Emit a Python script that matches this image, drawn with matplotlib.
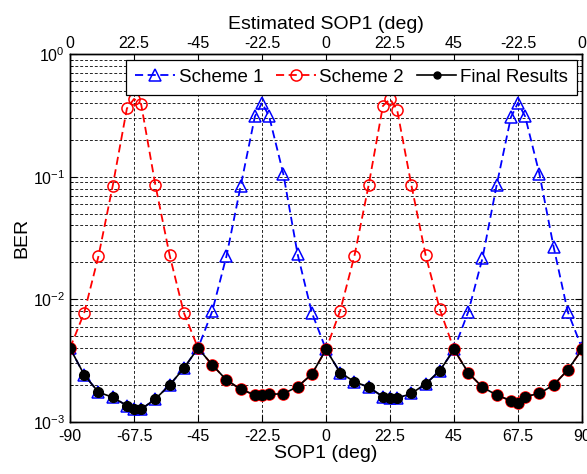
"""
BER versus SOP1 for the two estimation schemes and the final (best-of) result.
"""

import matplotlib
matplotlib.use('Agg')
import matplotlib.pyplot as plt
from matplotlib.ticker import LogLocator, NullFormatter, FixedLocator

plt.rcParams['font.family'] = 'Liberation Sans'
plt.rcParams['mathtext.default'] = 'regular'
plt.rcParams['xtick.direction'] = 'in'
plt.rcParams['ytick.direction'] = 'in'

# SOP1 sample points (deg)
sop1 = [-90, -85, -80, -75, -70, -67.5, -65, -60, -55, -50,
        -45, -40, -35, -30, -25, -22.5, -20, -15, -10, -5,
        0, 5, 10, 15, 20, 22.5, 25, 30, 35, 40,
        45, 50, 55, 60, 65, 67.5, 70, 75, 80, 85, 90]

scheme1 = [0.0040, 0.00242, 0.00175, 0.00159, 0.00136, 0.00127, 0.00127, 0.00154, 0.0020, 0.00274,
           0.0040, 0.0080, 0.0225, 0.084, 0.31, 0.40, 0.31, 0.105, 0.0234, 0.0078,
           0.0039, 0.00252, 0.00213, 0.00192, 0.00161, 0.00156, 0.00156, 0.00171, 0.00204, 0.00262,
           0.0039, 0.0079, 0.0216, 0.0855, 0.305, 0.40, 0.31, 0.106, 0.0269, 0.0079, 0.0040]

scheme2 = [0.0040, 0.0078, 0.0225, 0.084, 0.36, 0.43, 0.39, 0.0855, 0.023, 0.0078,
           0.0040, 0.00292, 0.0022, 0.00185, 0.00166, 0.00166, 0.00168, 0.0017, 0.00194, 0.00245,
           0.0039, 0.0081, 0.0227, 0.0855, 0.377, 0.43, 0.35, 0.0855, 0.023, 0.0083,
           0.0039, 0.00252, 0.00192, 0.00166, 0.00149, 0.00142, 0.00161, 0.00171, 0.0020, 0.00266, 0.0039]

final = [0.0040, 0.00242, 0.00175, 0.00159, 0.00136, 0.00127, 0.00127, 0.00154, 0.0020, 0.00274,
         0.0040, 0.00292, 0.0022, 0.00185, 0.00166, 0.00166, 0.00168, 0.0017, 0.00194, 0.00245,
         0.0039, 0.00252, 0.00213, 0.00192, 0.00161, 0.00156, 0.00156, 0.00171, 0.00204, 0.00262,
         0.0039, 0.00252, 0.00192, 0.00166, 0.00149, 0.00142, 0.00161, 0.00171, 0.0020, 0.00266, 0.0039]

xticks = [-90, -67.5, -45, -22.5, 0, 22.5, 45, 67.5, 90]
xtick_labels = ['-90', '-67.5', '-45', '-22.5', '0', '22.5', '45', '67.5', '90']
top_labels = ['0', '22.5', '-45', '-22.5', '0', '22.5', '45', '-22.5', '0']


def main():
    fig = plt.figure(figsize=(5.87, 4.74), dpi=100)
    ax = fig.add_axes([0.1193, 0.1097, 0.8722, 0.7764])

    grid_kw = dict(color='k', linestyle=(0, (3, 2)), linewidth=0.7, alpha=0.85)

    l1, = ax.plot(sop1, scheme1, linestyle=(0, (4.5, 2.5)), color='#0000ff', linewidth=1.3,
                  marker='^', markersize=8, markerfacecolor='none', markeredgewidth=1.1,
                  label='Scheme 1', zorder=3)
    l2, = ax.plot(sop1, scheme2, linestyle=(0, (4.5, 2.5)), color='#ff0000', linewidth=1.3,
                  marker='o', markersize=8, markerfacecolor='none', markeredgewidth=1.1,
                  label='Scheme 2', zorder=3)
    l3, = ax.plot(sop1, final, linestyle='-', color='k', linewidth=1.2,
                  marker='o', markersize=7, markerfacecolor='k', markeredgecolor='k',
                  label='Final Results', zorder=4)

    ax.set_yscale('log')
    ax.set_ylim(1e-3, 1)
    ax.set_xlim(-90, 90)
    ax.set_xticks(xticks)
    ax.set_xticklabels(xtick_labels)
    ax.yaxis.set_major_locator(LogLocator(base=10, numticks=10))
    ax.yaxis.set_minor_locator(LogLocator(base=10, subs=range(2, 10), numticks=20))
    ax.yaxis.set_minor_formatter(NullFormatter())
    ax.tick_params(axis='both', which='major', labelsize=11.5, length=5, right=True, top=False)
    ax.tick_params(axis='x', which='major', pad=5)
    ax.tick_params(axis='y', which='minor', length=2.5, right=True)

    ax.grid(True, which='major', axis='both', **grid_kw)
    ax.grid(True, which='minor', axis='y', **grid_kw)
    ax.set_axisbelow(True)

    ax.set_xlabel('SOP1 (deg)', fontsize=14, labelpad=1)
    ax.set_ylabel('BER', fontsize=14, labelpad=2)

    # top axis: estimated SOP1
    ax_top = ax.twiny()
    ax_top.set_xlim(-90, 90)
    ax_top.xaxis.set_major_locator(FixedLocator(xticks))
    ax_top.set_xticklabels(top_labels)
    ax_top.tick_params(axis='x', labelsize=11.5, length=5, pad=2)
    ax_top.set_xlabel('Estimated SOP1 (deg)', fontsize=14, labelpad=5)

    for a in (ax, ax_top):
        for sp in a.spines.values():
            sp.set_linewidth(1.0)

    leg = ax_top.legend([l1, l2, l3], ['Scheme 1', 'Scheme 2', 'Final Results'],
                        ncol=3, loc='upper right', bbox_to_anchor=(0.991, 0.985),
                        fontsize=13.5, handlelength=2.1, handletextpad=0.2,
                        columnspacing=0.7, borderpad=0.5, borderaxespad=0.0,
                        fancybox=False, framealpha=1.0, edgecolor='k')
    leg.get_frame().set_linewidth(0.9)
    # smaller dot for the final result entry, as in the original figure
    leg.legend_handles[2].set_markersize(5)

    plt.savefig('out.png', dpi=100)
    plt.close()


if __name__ == "__main__":
    main()
